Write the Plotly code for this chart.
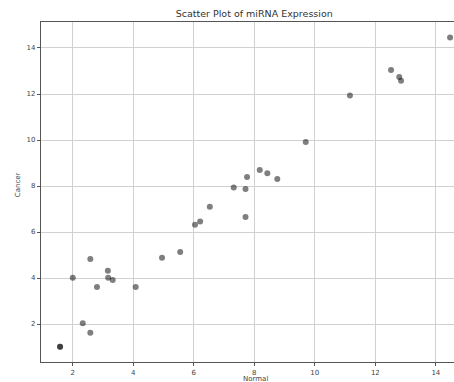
import plotly.graph_objects as go

normal = [14.47, 12.52, 12.79, 12.85, 11.16, 9.70, 8.18, 8.43, 8.76, 7.76, 7.32, 7.71, 7.71,
          6.53, 6.21, 6.04, 5.55, 4.95, 2.58, 2.00, 3.16, 3.17, 3.32, 2.80, 4.08, 2.33, 2.58,
          1.58, 1.58]
cancer = [14.46, 13.04, 12.74, 12.58, 11.93, 9.91, 8.70, 8.55, 8.30, 8.39, 7.94, 7.87, 6.65,
          7.10, 6.46, 6.32, 5.13, 4.88, 4.83, 4.01, 4.32, 4.01, 3.91, 3.61, 3.61, 2.03, 1.62,
          1.01, 1.01]

title = "Scatter Plot of miRNA Expression"
x_label = "Normal"
y_label = "Cancer"

fig = go.Figure(go.Scatter(
    x=normal, y=cancer, mode="markers",
    marker=dict(color="black", opacity=0.5, size=6, line=dict(width=0)),
))

font = "DejaVu Sans, sans-serif"
axis_common = dict(
    showgrid=True, gridcolor="#d0d0d0", gridwidth=1,
    showline=True, linecolor="#555555", linewidth=1.2, mirror=True,
    ticks="outside", ticklen=3, tickcolor="#555555",
    tickfont=dict(family=font, size=7, color="#444444"),
    zeroline=False,
)
fig.update_layout(
    width=454, height=382,
    margin=dict(l=41, r=0, t=22, b=20),
    paper_bgcolor="white", plot_bgcolor="white",
    showlegend=False,
    title=dict(text=title, x=0.56, xanchor="center", y=0.963, yanchor="middle",
               font=dict(family=font, size=9.5, color="#333333")),
    xaxis=dict(range=[0.95, 14.6], tickvals=[2, 4, 6, 8, 10, 12, 14], **axis_common),
    yaxis=dict(range=[0.35, 15.13], tickvals=[2, 4, 6, 8, 10, 12, 14], **axis_common),
)
fig.add_annotation(text=x_label, xref="paper", yref="paper", x=0.52, y=0, yshift=-11,
                   showarrow=False, yanchor="top",
                   font=dict(family=font, size=7, color="#444444"))
fig.add_annotation(text=y_label, xref="paper", yref="paper", x=0, xshift=-23, y=0.52,
                   showarrow=False, textangle=-90, xanchor="center",
                   font=dict(family=font, size=7, color="#444444"))

fig.write_html("out.html")
